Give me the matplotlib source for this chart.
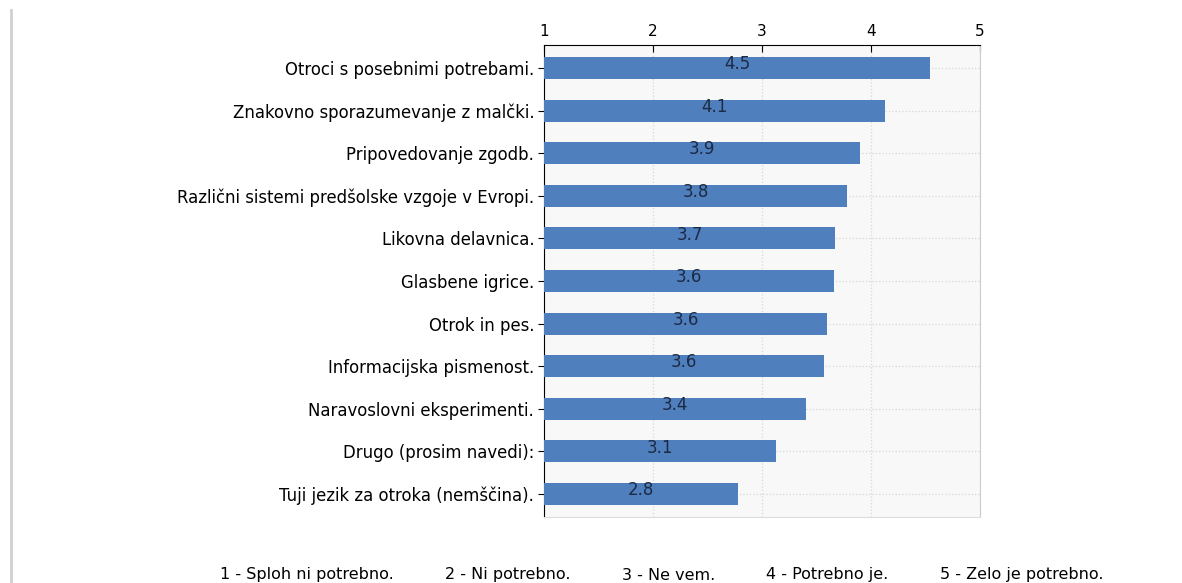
import numpy as np
import matplotlib.pyplot as plt

categories = [
    "Otroci s posebnimi potrebami.",
    "Znakovno sporazumevanje z malčki.",
    "Pripovedovanje zgodb.",
    "Različni sistemi predšolske vzgoje v Evropi.",
    "Likovna delavnica.",
    "Glasbene igrice.",
    "Otrok in pes.",
    "Informacijska pismenost.",
    "Naravoslovni eksperimenti.",
    "Drugo (prosim navedi):",
    "Tuji jezik za otroka (nemščina).",
]
values = [4.54, 4.13, 3.90, 3.78, 3.67, 3.66, 3.60, 3.57, 3.40, 3.13, 2.78]
labels = ["4.5", "4.1", "3.9", "3.8", "3.7", "3.6", "3.6", "3.6", "3.4", "3.1", "2.8"]
scale_labels = ["1 - Sploh ni potrebno.", "2 - Ni potrebno.", "3 - Ne vem.",
                "4 - Potrebno je.", "5 - Zelo je potrebno."]

plt.rcParams['font.family'] = ['DejaVu Sans']

fig = plt.figure(figsize=(11.82, 5.83), dpi=100)
ax = fig.add_axes([0.4602, 0.1132, 0.8291 - 0.4602, 0.9228 - 0.1132])
ax.set_facecolor('#f8f8f8')

y = np.arange(len(categories))
base = 1
ax.barh(y, np.array(values) - base, left=base, height=0.52, color='#4f7fbd', zorder=3)
for yi, v, lab in zip(y, values, labels):
    ax.text((base + v) / 2, yi - 0.09, lab, ha='center', va='center', fontsize=12,
            color='#1c2a44', zorder=4)

ax.set_xlim(1, 5)
ax.set_ylim(len(categories) - 0.46, -0.54)
ax.set_xticks([1, 2, 3, 4, 5])
ax.xaxis.tick_top()
ax.tick_params(axis='x', direction='in', length=5, labelsize=11, pad=4)
ax.set_yticks(y)
ax.set_yticklabels(categories, fontsize=11.9)
ax.tick_params(axis='y', direction='out', length=4, pad=3)

ax.grid(True, axis='x', color='#d8d8d8', linestyle=':', linewidth=0.9, zorder=1)
ax.grid(True, axis='y', color='#d8d8d8', linestyle=':', linewidth=0.9, zorder=1)

ax.spines['top'].set_color('black')
ax.spines['left'].set_color('black')
ax.spines['right'].set_color('#cccccc')
ax.spines['bottom'].set_color('#dddddd')

# grey frame line on the left edge
fig.add_artist(plt.Line2D([0.0093, 0.0093], [0.0, 0.983], color='#d0d0d0', linewidth=2))

xs = [220, 445, 622, 766, 940]
for x, t in zip(xs, scale_labels):
    fig.text(x / 1182, 1 - 575 / 583, t, ha='left', va='center', fontsize=11.5)

fig.savefig("out.png", dpi=100)
